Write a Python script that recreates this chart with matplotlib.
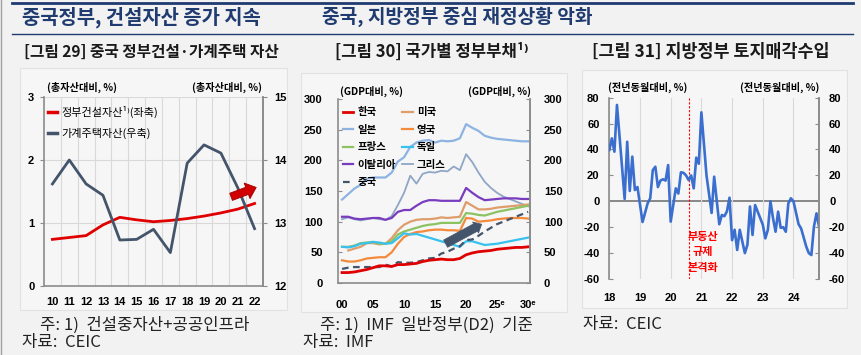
import numpy as np
import matplotlib.pyplot as plt
from matplotlib.patches import FancyArrowPatch, Rectangle
from matplotlib.lines import Line2D

plt.rcParams['font.family'] = ['Noto Sans CJK KR', 'DejaVu Sans']

# ---- data: [그림 29] (share of total assets, %)
years29 = list(range(10, 23))
gov_constr = [0.74, 0.77, 0.80, 0.97, 1.09, 1.05, 1.02, 1.04, 1.07, 1.11, 1.16, 1.22, 1.31]
hh_housing = [13.62, 14.00, 13.62, 13.44, 12.73, 12.74, 12.90, 12.53, 13.95, 14.24, 14.11, 13.56, 12.91]

# ---- data: [그림 30] gov debt, % of GDP, 2000-2030
years30 = list(range(0, 31))
korea = [17, 17, 18, 20, 22, 25, 28, 28, 27, 30, 30, 31, 32, 35, 37, 38, 39, 38, 38, 40,
         46, 49, 51, 52, 53, 55, 56, 57, 58, 58, 59]
japan = [136, 145, 154, 160, 170, 172, 172, 172, 180, 198, 205, 222, 229, 232, 233, 229, 232, 231, 232, 236,
         259, 253, 248, 240, 237, 235, 234, 233, 232, 231, 231]
france = [59, 59, 61, 65, 66, 67, 64, 64, 68, 79, 84, 87, 90, 93, 95, 96, 98, 98, 98, 98,
          114, 113, 111, 110, 113, 116, 118, 120, 122, 124, 126]
italy = [108, 108, 105, 104, 105, 106, 106, 103, 106, 116, 119, 119, 126, 132, 135, 135, 134, 134, 134, 134,
         155, 147, 140, 135, 136, 137, 138, 138, 138, 137, 137]
china = [23, 25, 26, 26, 26, 26, 26, 30, 27, 34, 33, 33, 34, 37, 40, 41, 48, 51, 56, 60,
         70, 71, 77, 84, 90, 96, 100, 104, 108, 112, 116]
usa = [np.nan, 53, 56, 59, 65, 65, 63, 64, 73, 86, 95, 100, 103, 104, 104, 105, 107, 106, 107, 108,
       132, 126, 120, 120, 121, 123, 124, 125, 126, 127, 128]
uk = [37, 35, 35, 37, 40, 41, 42, 42, 50, 64, 75, 80, 83, 84, 86, 87, 87, 86, 86, 85,
      106, 105, 100, 101, 102, 104, 105, 106, 106, 106, 105]
germany = [59, 58, 60, 64, 65, 67, 66, 64, 65, 73, 81, 79, 80, 77, 74, 71, 68, 65, 62, 59,
           68, 68, 65, 62, 63, 64, 66, 68, 70, 72, 74]
greece = [104, 107, 104, 102, 104, 106, 104, 103, 109, 127, 147, 175, 162, 178, 181, 180, 183, 182, 190, 184,
          210, 197, 180, 165, 155, 147, 141, 137, 133, 129, 125]

# ---- data: [그림 31] land sale revenue, yoy %, months since Jan 2018
land_month = [0, 1, 2, 3, 6, 7, 8, 9, 10, 11, 13, 15, 16, 17, 18, 19, 20, 21, 22, 23,
              24, 26, 27, 28, 29, 30, 31, 32, 33, 34, 35, 36, 38, 40, 41, 43, 44, 45, 46, 47,
              48, 49, 50, 51, 53, 54, 55, 56, 57, 59, 60, 61, 62, 63, 64, 65, 66, 67, 68, 69,
              70, 71, 72, 74, 75, 76, 77, 78, 79, 80, 81, 82]
land_yoy = [39.6, 48.6, 38.3, 74.4, 1.8, 46, 8, 34.5, 8.7, 11, -16, -1.5, 2.3, 24, 26.7, 11, 16, 17, 16, 28,
            -15.7, 10, 6, 22.4, 22, 20, 16.4, 20, 10, 33.7, 29, 68.7, 20, -9, 19, -17.7, -10.6, -11.5, -7.7, 2.8,
            -30, -22, -37.6, -22, -40, -33.5, -4, -26, -2.9, -13, -18, -28.6, -22, 0, -13, -23.5, -8, -20.5, -20, -23.5,
            -1.5, 2.3, 0, -17.7, -21, -28, -35, -40, -41.5, -19.6, -9.3, -19.6]
policy_month = 7  # Aug 2020

W, H = 861, 355
navy = '#1f3b70'
red = '#e00000'
slate = '#44546a'
spine_c = '#8c8c8c'
grid_c = '#d9d9d9'

tickfont = dict(family=['Liberation Sans', 'DejaVu Sans'], weight='bold', size=8)
unitfont = dict(family=['Noto Sans CJK KR', 'DejaVu Sans'], weight='bold', size=7.3)
notefont = dict(fontsize=12, va='center', color='#222222')


def rect(x0, y0, x1, y1):
    return [x0 / W, 1 - y1 / H, (x1 - x0) / W, (y1 - y0) / H]


def fx(x):
    return x / W


def fy(y):
    return 1 - y / H


fig = plt.figure(figsize=(W / 100, H / 100), dpi=100, facecolor='#f2f2f2')

# header lines and titles
fig.add_artist(Line2D([fx(12), fx(853)], [fy(3), fy(3)], color=navy, lw=2))
fig.add_artist(Line2D([fx(12), fx(853)], [fy(34), fy(34)], color=navy, lw=1))
fig.add_artist(Line2D([fx(1), fx(1)], [0, 1], color='#a0a0a0', lw=1))
fig.text(fx(22), fy(17), '중국정부, 건설자산 증가 지속', color=navy, fontsize=14.3,
         weight='bold', va='center')
fig.text(fx(322), fy(17), '중국, 지방정부 중심 재정상황 악화', color=navy, fontsize=13.8,
         weight='bold', va='center')

fig.text(fx(151), fy(52), '[그림 29] 중국 정부건설·가계주택 자산', fontsize=11.3, weight='bold',
         ha='center', va='center', color='#1a1a1a')
fig.text(fx(432), fy(52), '[그림 30] 국가별 정부부채¹⁾', fontsize=12, weight='bold',
         ha='center', va='center', color='#1a1a1a')
fig.text(fx(711), fy(52), '[그림 31] 지방정부 토지매각수입', fontsize=12.5, weight='bold',
         ha='center', va='center', color='#1a1a1a')

# chart boxes
for (x0, y0, x1, y1) in [(20, 68, 287, 310), (301, 73, 567, 312), (582, 70, 847, 308)]:
    fig.add_artist(Rectangle((fx(x0), fy(y1)), (x1 - x0) / W, (y1 - y0) / H,
                             transform=fig.transFigure, fc='#f6f6f6', ec='#e2e2e2',
                             lw=0.8, zorder=-1))

# footnotes
fig.text(fx(40), fy(325), '주: 1)  건설중자산+공공인프라', **notefont)
fig.text(fx(22), fy(343), '자료:  CEIC', **notefont)
fig.text(fx(320), fy(325), '주: 1)  IMF  일반정부(D2)  기준', **notefont)
fig.text(fx(303), fy(343), '자료:  IMF', **notefont)
fig.text(fx(583), fy(325), '자료:  CEIC', **notefont)

# ================= panel 29
ax1 = fig.add_axes(rect(44, 97, 263, 286))
ax1.set_facecolor('none')
ax1.set_xlim(9.5, 22.5)
ax1.set_ylim(0, 3)
ax1.set_xticks(years29, labels=[str(y) for y in years29], **tickfont)
ax1.set_xticks(np.arange(10.5, 22, 1), minor=True)
ax1.set_yticks([0, 1, 2, 3], labels=['0', '1', '2', '3'], **tickfont)
ax1.grid(axis='x', which='minor', color=grid_c, lw=0.8)
ax1.grid(axis='y', which='major', color=grid_c, lw=0.8)
ax1.tick_params(axis='x', which='both', length=0, pad=8)
ax1.tick_params(axis='y', length=3, direction='out', color=spine_c, pad=4)
ax1.spines['top'].set_visible(False)
for s in ['left', 'right', 'bottom']:
    ax1.spines[s].set_color(spine_c)
    ax1.spines[s].set_linewidth(1.2)
ax1.plot(years29, gov_constr, color=red, lw=2, zorder=3)

ax1r = ax1.twinx()
ax1r.set_ylim(12, 15)
ax1r.set_yticks([12, 13, 14, 15], labels=['12', '13', '14', '15'], **tickfont)
ax1r.tick_params(axis='y', length=3, direction='out', color=spine_c, pad=5)
for s in ['top', 'left', 'bottom']:
    ax1r.spines[s].set_visible(False)
ax1r.spines['right'].set_color(spine_c)
ax1r.spines['right'].set_linewidth(1.2)
ax1r.plot(years29, hh_housing, color=slate, lw=2, zorder=3)
ax1r.add_patch(FancyArrowPatch((20.45, 13.40), (22.25, 13.58),
                               arrowstyle='simple,head_length=0.7,head_width=1.2,tail_width=0.55',
                               mutation_scale=10, fc='#d00000', ec='#a00000', lw=0.6, zorder=5))
ax1r.legend(handles=[Line2D([], [], color=red, lw=2.5), Line2D([], [], color=slate, lw=2.5)],
            labels=['정부건설자산¹⁾(좌축)', '가계주택자산(우축)'],
            loc='upper left', bbox_to_anchor=(0.02, 0.955), frameon=False,
            handlelength=0.8, handletextpad=0.4, labelspacing=0.95, borderpad=0,
            borderaxespad=0, prop=dict(family=['Noto Sans CJK KR', 'DejaVu Sans'], size=8))

fig.text(fx(47), fy(87), '(총자산대비, %)', va='center', ha='left', **unitfont)
fig.text(fx(262), fy(87), '(총자산대비, %)', va='center', ha='right', **unitfont)

# ================= panel 30
ax2 = fig.add_axes(rect(338, 99, 530, 283))
ax2.set_facecolor('none')
ax2.set_xlim(-0.65, 30.3)
ax2.set_ylim(0, 300)
ax2.set_xticks([0, 5, 10, 15, 20, 25, 30],
               labels=['00', '05', '10', '15', '20', '25ᵉ', '30ᵉ'], **tickfont)
ax2.set_xticks([5, 10, 15, 20, 25], minor=True)
ax2.grid(axis='x', which='minor', color=grid_c, lw=0.8)
ax2.tick_params(axis='x', which='both', length=0, pad=12)
yt = [0, 50, 100, 150, 200, 250, 300]
ax2.set_yticks(yt, labels=[str(v) for v in yt], **tickfont)
ax2.tick_params(axis='y', length=3, direction='in', color=spine_c, pad=11)
ax2.spines['top'].set_visible(False)
for s in ['left', 'right', 'bottom']:
    ax2.spines[s].set_color(spine_c)
    ax2.spines[s].set_linewidth(1.2)

series30 = [
    ('한국', korea, red, 2.0, '-'),
    ('일본', japan, '#8db3e2', 1.6, '-'),
    ('프랑스', france, '#8dc263', 1.6, '-'),
    ('이탈리아', italy, '#7a3cbf', 1.6, '-'),
    ('중국', china, slate, 1.6, (0, (3, 2))),
    ('미국', usa, '#de9d6a', 1.6, '-'),
    ('영국', uk, '#f48a3c', 1.6, '-'),
    ('독일', germany, '#37c1ee', 1.6, '-'),
    ('그리스', greece, '#8fa6c6', 1.3, '-'),
]
order = ['한국', '일본', '프랑스', '이탈리아', '중국', '미국', '영국', '독일', '그리스']
z = {'그리스': 2, '일본': 2.1, '이탈리아': 2.2, '미국': 2.3, '프랑스': 2.4, '영국': 2.5,
     '독일': 2.6, '중국': 2.8, '한국': 2.9}
handles = {}
for name, vals, col, lw, ls in series30:
    ln, = ax2.plot(years30, vals, color=col, lw=lw, ls=ls, zorder=z[name])
    handles[name] = ln
ax2.add_patch(FancyArrowPatch((16.3, 62), (22.9, 98),
                              arrowstyle='simple,head_length=0.5,head_width=0.9,tail_width=0.6',
                              mutation_scale=10, fc=slate, ec=slate, lw=0.5, zorder=5))

ax2r = ax2.twinx()
ax2r.set_ylim(0, 300)
ax2r.set_yticks(yt, labels=[str(v) for v in yt], **tickfont)
ax2r.tick_params(axis='y', length=3, direction='in', color=spine_c, pad=10)
for s in ['top', 'left', 'bottom']:
    ax2r.spines[s].set_visible(False)
ax2r.spines['right'].set_color(spine_c)
ax2r.spines['right'].set_linewidth(1.2)
ax2r.legend(handles=[handles[n] for n in order], labels=order, ncol=2,
            loc='upper left', bbox_to_anchor=(0.025, 0.955), frameon=False,
            handlelength=1.0, handletextpad=0.4, labelspacing=0.72, columnspacing=0.6,
            borderpad=0, borderaxespad=0,
            prop=dict(family=['Noto Sans CJK KR', 'DejaVu Sans'], size=7.5, weight='bold'))

fig.text(fx(340), fy(91), '(GDP대비, %)', va='center', ha='left', **unitfont)
fig.text(fx(531), fy(91), '(GDP대비, %)', va='center', ha='right', **unitfont)

# ================= panel 31
ax3 = fig.add_axes(rect(609.3, 97.7, 819.3, 279))
ax3.set_facecolor('none')
land_x = [2018 + m / 12 for m in land_month]
ax3.set_xlim(2018, 2018 + 82.1 / 12)
ax3.set_ylim(-60, 80)
xt3 = list(range(2018, 2025))
ax3.set_xticks(xt3, labels=[str(y - 2000) for y in xt3], **tickfont)
ax3.grid(axis='x', color=grid_c, lw=0.8)
ax3.tick_params(axis='x', length=0, pad=10)
yt3 = list(range(-60, 81, 20))
ax3.set_yticks(yt3, labels=[str(v) for v in yt3], **tickfont)
ax3.tick_params(axis='y', length=3, direction='in', color=spine_c, pad=7)
ax3.spines['top'].set_visible(False)
ax3.spines['bottom'].set_visible(False)
for s in ['left', 'right']:
    ax3.spines[s].set_color(spine_c)
    ax3.spines[s].set_linewidth(1.2)
ax3.axhline(0, color='#7f7f7f', lw=1.3, zorder=1)
px = 2020 + policy_month / 12
ax3.axvline(px, color='#ff0000', lw=0.8, ls=(0, (2, 1.5)), zorder=2)
ax3.plot(land_x, land_yoy, color='#3b6fcf', lw=1.9, zorder=3)
ax3.text(px + 0.47, -39, '부동산\n규제\n본격화', color='#ff0000', fontsize=8, weight='bold',
         ha='center', va='center', linespacing=1.25)

ax3r = ax3.twinx()
ax3r.set_ylim(-60, 80)
ax3r.set_yticks(yt3, labels=[str(v) for v in yt3], **tickfont)
ax3r.tick_params(axis='y', length=3, direction='in', color=spine_c, pad=7)
for s in ['top', 'left', 'bottom']:
    ax3r.spines[s].set_visible(False)
ax3r.spines['right'].set_color(spine_c)
ax3r.spines['right'].set_linewidth(1.2)

fig.text(fx(608), fy(87), '(전년동월대비, %)', va='center', ha='left', **unitfont)
fig.text(fx(819), fy(87), '(전년동월대비, %)', va='center', ha='right', **unitfont)

fig.savefig('out.png', dpi=100, facecolor=fig.get_facecolor())
